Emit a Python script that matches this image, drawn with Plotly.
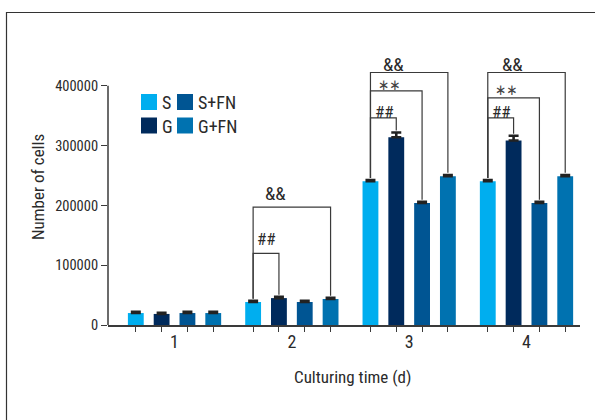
import plotly.graph_objects as go

# ---- data ----
days = [1, 2, 3, 4]
day_labels = ["1", "2", "3", "4"]
series_names = ["S", "G", "S+FN", "G+FN"]
series_colors = ["#00AEEF", "#002A5C", "#005593", "#0072B0"]
S_vals = [20000, 38500, 240500, 240500]
G_vals = [18500, 45000, 314000, 308500]
SFN_vals = [20000, 38500, 204000, 204000]
GFN_vals = [20000, 43500, 249000, 249000]
S_err = [2000, 2000, 2000, 2000]
G_err = [2000, 2000, 8000, 8000]
SFN_err = [2000, 2000, 2000, 2000]
GFN_err = [2000, 2000, 2000, 2000]
y_tickvals = [0, 100000, 200000, 300000, 400000]
y_ticktext = ["0", "100000", "200000", "300000", "400000"]

values = [S_vals, G_vals, SFN_vals, GFN_vals]
errors = [S_err, G_err, SFN_err, GFN_err]
offsets = [-0.33, -0.11, 0.11, 0.33]
bar_w = 0.135

FONT = "Roboto Condensed, DejaVu Sans Condensed, sans-serif"
STAR_FONT = "DejaVu Sans Condensed, DejaVu Sans, sans-serif"
LINE = "#3a3a3a"
TXT = "#2a2a2a"

L, R, T, B = 108, 580, 50, 325
W, H = 595, 420


def px(x):
    return (x - L) / (R - L)


def py(y):
    return (B - y) / (B - T)


fig = go.Figure()
bar_x = []
for k in range(4):
    xs = [d + offsets[k] for d in days]
    bar_x += xs
    fig.add_trace(go.Bar(
        x=xs, y=values[k], width=bar_w, name=series_names[k],
        marker=dict(color=series_colors[k], line=dict(width=0)),
        error_y=dict(type="data", array=errors[k], arrayminus=[0] * 4, symmetric=False,
                     color="#222222", thickness=2.6, width=5),
        showlegend=False,
    ))


def bx(day_i, k):
    return days[day_i] + offsets[k]


def top(day_i, k):
    return values[k][day_i] + errors[k][day_i] + 3500


shapes = []


def bracket(day_i, k2, yb):
    x1 = bx(day_i, 0)
    x2 = bx(day_i, k2)
    pts = [(x1, top(day_i, 0)), (x1, yb), (x2, yb), (x2, top(day_i, k2))]
    path = "M " + " L ".join(f"{a},{b}" for a, b in pts)
    shapes.append(dict(type="path", path=path, xref="x", yref="y",
                       line=dict(color=LINE, width=1.2)))


annotations = []


def label(text, x, y, size=17, family=FONT, color=TXT):
    annotations.append(dict(text=text, x=x, y=y, xref="x", yref="y", showarrow=False,
                            font=dict(family=family, size=size, color=color),
                            xanchor="center", yanchor="middle"))


# day 2
bracket(1, 1, 119800)
bracket(1, 3, 197200)
label("##", 1.788, 143500, 17)
label("&&", 1.857, 220500, 19)
# day 3
bracket(2, 1, 346500)
bracket(2, 2, 391600)
bracket(2, 3, 422400)
label("##", 2.786, 355500, 17)
label("∗∗", 2.829, 402000, 15, STAR_FONT, "#444444")
label("&&", 2.87, 436500, 19)
# day 4
bracket(3, 1, 346500)
bracket(3, 2, 380000)
bracket(3, 3, 422400)
label("##", 3.783, 355500, 17)
label("∗∗", 3.826, 393000, 15, STAR_FONT, "#444444")
label("&&", 3.877, 436500, 19)

# y axis line (only up to 400000)
shapes.append(dict(type="line", xref="paper", yref="y", x0=0, x1=0, y0=0, y1=400000,
                   line=dict(color=LINE, width=1.5)))
# outer frame
shapes.append(dict(type="rect", xref="paper", yref="paper",
                   x0=px(6.5), x1=px(W + 10), y0=py(H + 10), y1=py(12.5),
                   line=dict(color="#333333", width=1.2)))

# manual legend: columns [S, G], [S+FN, G+FN]
leg_pos = [(141, 94), (141, 117.5), (177, 94), (177, 117.5)]
for k in range(4):
    lx, ly = leg_pos[k]
    shapes.append(dict(type="rect", xref="paper", yref="paper",
                       x0=px(lx), x1=px(lx + 16), y0=py(ly + 16), y1=py(ly),
                       fillcolor=series_colors[k], line=dict(width=0)))
    annotations.append(dict(text=series_names[k], xref="paper", yref="paper",
                            x=px(lx + 19), y=py(ly + 8.5), showarrow=False,
                            xanchor="left", yanchor="middle",
                            font=dict(family=FONT, size=18, color=TXT)))

# axis titles
annotations.append(dict(text="Culturing time (d)", xref="paper", yref="paper",
                        x=px(352), y=py(377), showarrow=False,
                        xanchor="center", yanchor="middle",
                        font=dict(family=FONT, size=17, color=TXT)))
annotations.append(dict(text="Number of cells", xref="paper", yref="paper",
                        x=px(38), y=py(187), showarrow=False, textangle=-90,
                        xanchor="center", yanchor="middle",
                        font=dict(family=FONT, size=17, color=TXT)))

fig.update_layout(
    width=W, height=H,
    margin=dict(l=L, r=W - R, t=T, b=H - B, pad=0),
    paper_bgcolor="white", plot_bgcolor="white",
    barmode="overlay",
    font=dict(family=FONT, size=16, color=TXT),
    shapes=shapes, annotations=annotations,
    xaxis=dict(range=[0.433, 4.456], showgrid=False, zeroline=False,
               showline=True, linecolor=LINE, linewidth=1.5,
               tickvals=days, ticktext=day_labels, ticks="outside", ticklen=0,
               tickcolor="rgba(0,0,0,0)",
               minor=dict(tickvals=bar_x, ticks="outside", ticklen=5, tickwidth=1,
                          tickcolor=LINE),
               tickfont=dict(family=FONT, size=18, color=TXT)),
    yaxis=dict(range=[0, 460000], showgrid=False, zeroline=False, showline=False,
               tickvals=y_tickvals, ticktext=y_ticktext, ticks="outside",
               ticklen=6, tickwidth=1, tickcolor=LINE,
               tickfont=dict(family=FONT, size=14.5, color=TXT)),
)

fig.write_html("out.html")
